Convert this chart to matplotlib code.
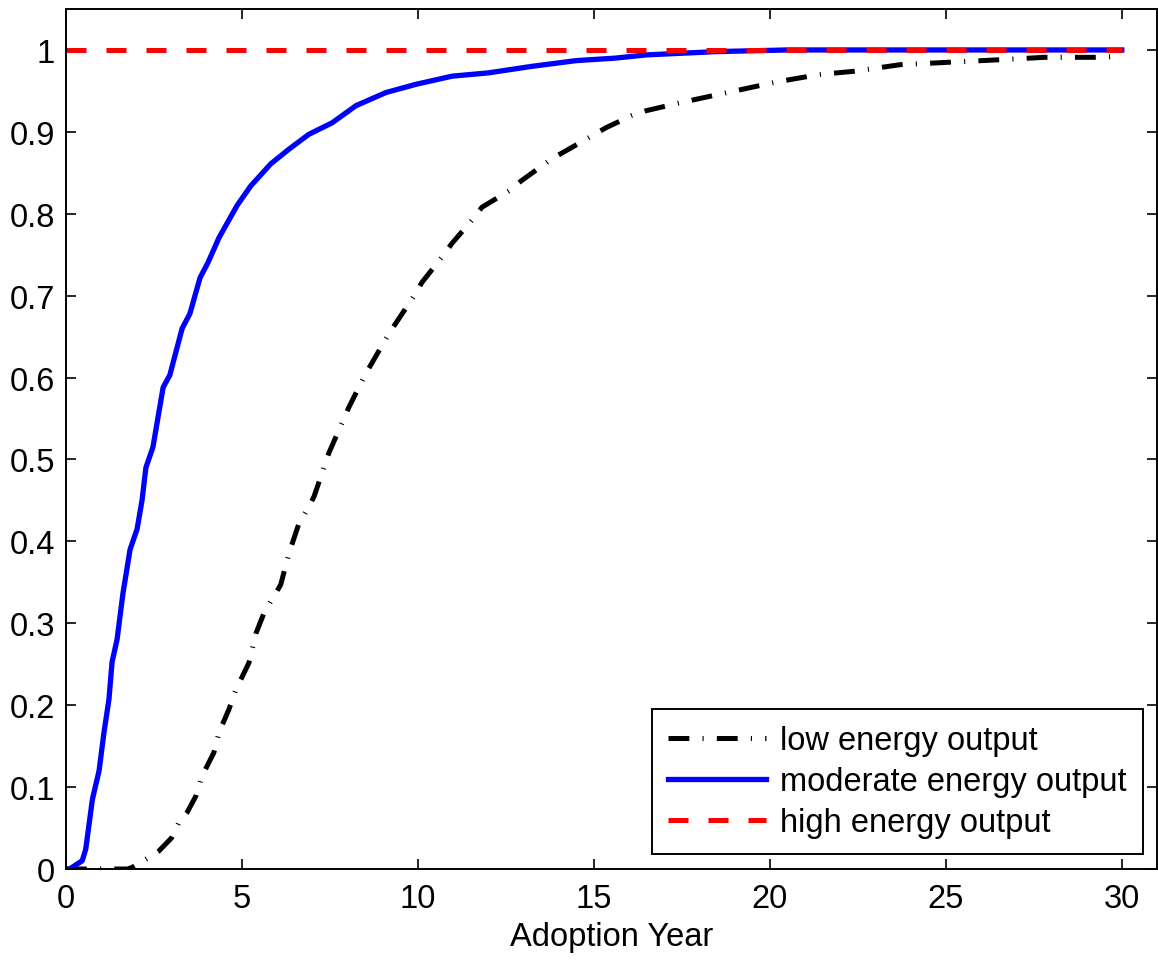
import matplotlib
matplotlib.use("Agg")
import matplotlib.pyplot as plt
from matplotlib.ticker import FormatStrFormatter

plt.rcParams['font.family'] = ['Liberation Sans', 'DejaVu Sans']
plt.rcParams['lines.scale_dashes'] = False

# low energy output
low_x = [0, 0.5, 1.0, 1.5, 1.75, 1.88, 2.27, 2.64, 3.0, 3.21, 3.44, 3.69, 3.86, 4.2,
         4.35, 4.63, 4.83, 5.2, 5.4, 5.63, 5.85, 6.1, 6.34, 6.62, 6.9, 7.05, 7.47,
         8.04, 8.52, 9.18, 9.94, 10.11, 10.68, 10.97, 11.53, 11.82, 12.59, 12.93,
         13.8, 14.29, 14.94, 15.34, 16.08, 16.5, 17.5, 18.9, 20.2, 21.4, 22.4, 23.7,
         25.1, 26.5, 27.8, 29.2, 30]
low_y = [0, 0, 0, 0, 0, 0.002, 0.012, 0.022, 0.038, 0.057, 0.069, 0.089, 0.113, 0.142,
         0.167, 0.195, 0.219, 0.252, 0.288, 0.313, 0.329, 0.347, 0.386, 0.422, 0.442,
         0.455, 0.508, 0.564, 0.605, 0.654, 0.703, 0.716, 0.747, 0.764, 0.792, 0.808,
         0.828, 0.84, 0.867, 0.879, 0.895, 0.905, 0.92, 0.926, 0.936, 0.949, 0.961,
         0.970, 0.974, 0.982, 0.985, 0.988, 0.991, 0.991, 0.992]

# moderate energy output
mod_x = [0, 0.1, 0.46, 0.56, 0.75, 0.94, 1.08, 1.22, 1.31, 1.45, 1.62, 1.82, 2.02,
         2.16, 2.27, 2.47, 2.76, 2.95, 3.3, 3.52, 3.81, 4.03, 4.35, 4.86, 5.25, 5.82,
         6.34, 6.9, 7.56, 8.24, 9.09, 9.94, 10.97, 12.0, 13.24, 14.5, 15.6, 16.5,
         17.5, 18.5, 20.5, 25, 30]
mod_y = [0, 0.0, 0.010, 0.024, 0.085, 0.12, 0.167, 0.207, 0.253, 0.28, 0.337, 0.39,
         0.415, 0.45, 0.49, 0.515, 0.588, 0.603, 0.66, 0.678, 0.722, 0.74, 0.771, 0.81,
         0.834, 0.861, 0.879, 0.897, 0.911, 0.932, 0.948, 0.958, 0.968, 0.972, 0.98,
         0.987, 0.99, 0.994, 0.996, 0.998, 1.0, 1.0, 1.0]

# high energy output
high_x = [0, 30]
high_y = [1, 1]

labels = ["low energy output", "moderate energy output", "high energy output"]

FS = 23.5

fig = plt.figure(figsize=(11.58, 9.62), dpi=100)
ax = fig.add_axes([66 / 1158, 92 / 962, 1091 / 1158, 860 / 962])

ax.plot(low_x, low_y, color="black", lw=3.6,
        linestyle=(0, (15, 9.5, 0.8, 9.5)), dash_capstyle="butt", label=labels[0])
ax.plot(mod_x, mod_y, color="blue", lw=3.8, solid_joinstyle="round", label=labels[1])
ax.plot(high_x, high_y, color="red", lw=3.6,
        linestyle=(0, (14.4, 14.4)), dash_capstyle="butt", label=labels[2])

ax.set_xlim(0, 31)
ax.set_ylim(0, 1.05)
ax.set_xticks(range(0, 31, 5))
ax.set_yticks([i / 10 for i in range(11)])
ax.yaxis.set_major_formatter(FormatStrFormatter('%g'))
ax.tick_params(direction="in", length=7, width=1.2, top=True, right=True,
               labelsize=FS, pad=8)
ax.tick_params(axis="x", pad=10)
for s in ax.spines.values():
    s.set_linewidth(1.4)

ax.set_xlabel("Adoption Year", fontsize=FS, labelpad=5)

leg = ax.legend(loc="lower right", bbox_to_anchor=(0.987, 0.017), fontsize=FS,
                fancybox=False, edgecolor="black", framealpha=1,
                handlelength=3.0, handletextpad=0.42, labelspacing=0.3,
                borderpad=0.5, borderaxespad=0)
leg.get_frame().set_linewidth(1.4)

fig.savefig("out.png", dpi=100)
